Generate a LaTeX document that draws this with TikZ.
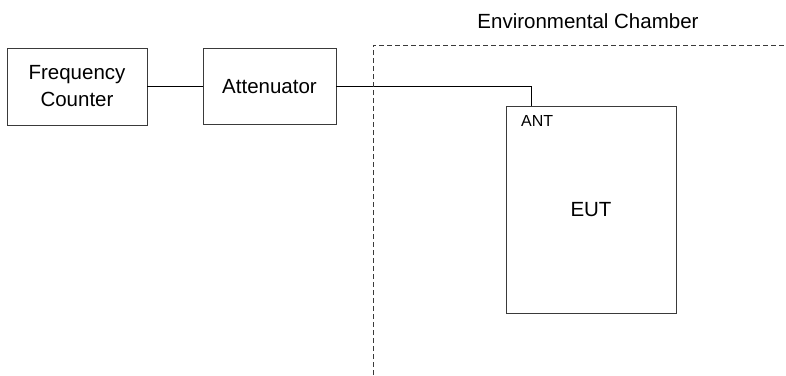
\documentclass[tikz,border=0pt]{standalone}
\usepackage{fontspec}
\setmainfont{Liberation Sans}
\usetikzlibrary{positioning,calc}
\definecolor{edgegray}{HTML}{3A3A3A}
\tikzset{
  unit/.style={draw=edgegray, line width=0.9pt, align=center, inner sep=0pt, font=\fontsize{20.5}{27}\selectfont},
  wire/.style={draw=black, line width=0.9pt},
  chamber/.style={draw=edgegray, line width=0.8pt, dash pattern=on 5pt off 3pt}
}
\begin{document}
\begin{tikzpicture}[x=1pt, y=-1pt]
  \useasboundingbox (0,0) rectangle (786,375);
  \node[unit, minimum width=140pt, minimum height=77pt] (fc) at (77,86.5) {Frequency\\Counter};
  \node[unit, minimum width=133pt, minimum height=76pt] (att) at (269.5,86.5) {Attenuator};
  \node[unit, minimum width=170pt, minimum height=207pt] (eut) at (591,209.5) {EUT};
  \node[font=\fontsize{16}{18}\selectfont, anchor=west, inner sep=0pt] (ant) at (521,121) {ANT};
  \node[font=\fontsize{20.5}{24}\selectfont, inner sep=0pt] (envlabel) at (588,21) {Environmental Chamber};
  \coordinate (antpin) at ($(eut.north west)+(26pt,0)$);
  \draw[wire] (fc) -- (att); \draw[wire] (att.east) -| (antpin);
  \draw[chamber] (373,375) -- (373,45) -- (786,45);
\end{tikzpicture}
\end{document}
